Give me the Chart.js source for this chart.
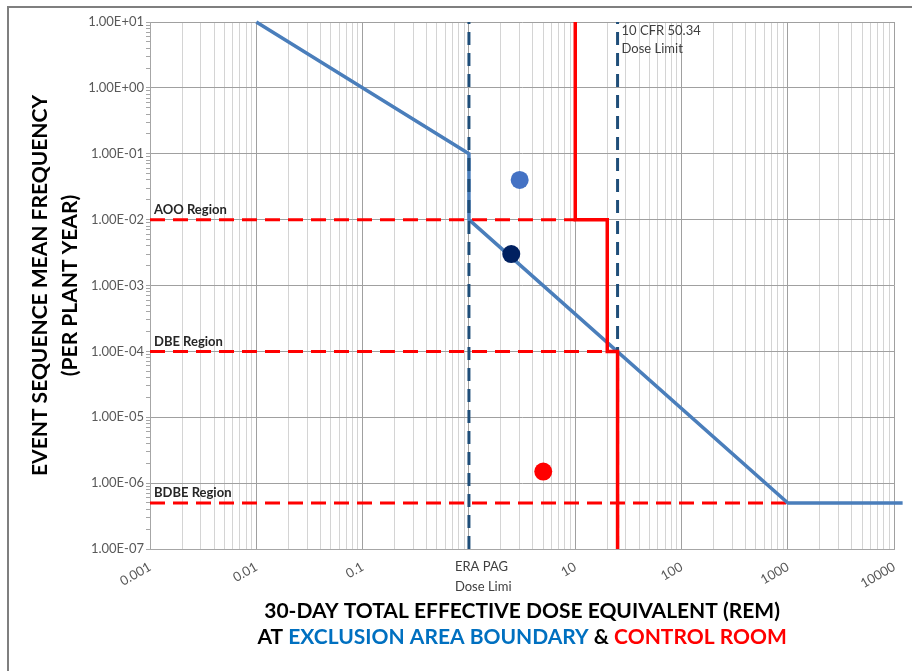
<!DOCTYPE html>
<html>
<head>
<meta charset="utf-8">
<script src="https://cdn.jsdelivr.net/npm/chart.js@4.4.1/dist/chart.umd.min.js"></script>
<style>
  html, body { margin: 0; padding: 0; background: #fff; }
  canvas { display: block; }
</style>
</head>
<body>
<canvas id="doseChart" width="912" height="671"></canvas>
<script>
// ---------------------------------------------------------------------------
// DATA
// ---------------------------------------------------------------------------

// exclusion area boundary limit curve (rem vs. frequency per plant year)
const eabDose = [0.01, 1, 1, 1000, 12000];
const eabFreq = [10, 0.1, 0.01, 5e-7, 5e-7];

// control room limit curve
const crDose = [10, 10, 20, 20, 25, 25];
const crFreq = [10, 1e-2, 1e-2, 1e-4, 1e-4, 1e-7];

// frequency region boundaries
const regionNames = ['AOO Region', 'DBE Region', 'BDBE Region'];
const regionFreq = [1e-2, 1e-4, 5e-7];
const regionEnd = [10, 20, 1000];

// vertical dose limits
const limitDose = [1, 25];
const eraLabel = ['ERA PAG', 'Dose Limi'];
const cfrLabel = ['10 CFR 50.34', 'Dose Limit'];

// event sequence results
const pointDose = [3, 2.5, 5];
const pointFreq = [0.04, 3e-3, 1.5e-6];
const pointColors = ['#4472C4', '#002060', '#FF0000'];

// axis ranges / labelled decades
const xMin = 0.001, xMax = 10000;
const yMin = 1e-7, yMax = 10;
const xLabels = ['0.001', '0.01', '0.1', '', '10', '100', '1000', '10000'];

const xTitle = '30-DAY TOTAL EFFECTIVE DOSE EQUIVALENT (REM)';
const xSubtitle = [['AT ', '#000000'], ['EXCLUSION AREA BOUNDARY', '#0070C0'], [' & ', '#000000'], ['CONTROL ROOM', '#FF0000']];
const yTitle = ['EVENT SEQUENCE MEAN FREQUENCY', '(PER PLANT YEAR)'];

// ---------------------------------------------------------------------------
// HELPERS
// ---------------------------------------------------------------------------

const FONT = 'Lato, "Open Sans", sans-serif';

function logTicks(min, max) {
    const out = [];
    const e0 = Math.round(Math.log10(min)), e1 = Math.round(Math.log10(max));
    for (let e = e0; e <= e1; e++) {
        for (let m = 1; m <= 9; m++) {
            const v = Number((m * Math.pow(10, e)).toPrecision(3));
            if (v > max * 1.0001) break;
            out.push({ value: v, major: m === 1 });
        }
    }
    return out;
}

function isDecade(v) {
    const l = Math.log10(v);
    return Math.abs(l - Math.round(l)) < 1e-6;
}

function sciLabel(v) {
    const e = Math.round(Math.log10(v));
    return '1.00E' + (e < 0 ? '-' : '+') + String(Math.abs(e)).padStart(2, '0');
}

function pts(xs, ys) {
    return xs.map((x, i) => ({ x: x, y: ys[i] }));
}

// ---------------------------------------------------------------------------
// DATASETS (index 0 drawn on top)
// ---------------------------------------------------------------------------

const datasets = [];

pointDose.forEach((d, i) => {
    datasets.push({
        data: [{ x: d, y: pointFreq[i] }],
        showLine: false,
        pointRadius: 9,
        pointBackgroundColor: pointColors[i],
        pointBorderWidth: 0
    });
});

// control room limit sits on top of the dashed dose limits
datasets.push({
    data: pts(crDose, crFreq),
    showLine: true,
    borderColor: '#FF0000',
    borderWidth: 3.5,
    pointRadius: 0
});

limitDose.forEach(d => {
    datasets.push({
        data: pts([d, d], [yMin, yMax]),
        showLine: true,
        borderColor: '#1F4E79',
        borderWidth: 3,
        borderDash: [13, 8],
        pointRadius: 0
    });
});

datasets.push({
    data: pts(eabDose, eabFreq),
    showLine: true,
    borderColor: '#4A7EBB',
    borderWidth: 3.5,
    pointRadius: 0,
    clip: false
});

regionFreq.forEach((f, i) => {
    datasets.push({
        data: pts([xMin, regionEnd[i]], [f, f]),
        showLine: true,
        borderColor: '#FF0000',
        borderWidth: 3,
        borderDash: [15, 8],
        pointRadius: 0
    });
});

// ---------------------------------------------------------------------------
// TEXT / FRAME PLUGIN
// ---------------------------------------------------------------------------

const annotationPlugin = {
    id: 'annotations',
    beforeDraw(chart) {
        const ctx = chart.ctx;
        ctx.save();
        ctx.strokeStyle = '#7f7f7f';
        ctx.lineWidth = 2;
        ctx.beginPath();
        ctx.moveTo(8, 671);
        ctx.lineTo(8, 7);
        ctx.lineTo(912, 7);
        ctx.stroke();
        ctx.restore();
    },
    afterDraw(chart) {
        const ctx = chart.ctx;
        const xs = chart.scales.x, ys = chart.scales.y;
        const area = chart.chartArea;
        ctx.save();
        ctx.textBaseline = 'middle';
        ctx.textAlign = 'left';

        // region labels
        ctx.fillStyle = '#262626';
        ctx.font = 'bold 13px ' + FONT;
        regionNames.forEach((n, i) => {
            ctx.fillText(n, xs.left + 4, ys.getPixelForValue(regionFreq[i]) - 10);
        });

        // dose limit labels
        ctx.fillStyle = '#404040';
        ctx.font = '13px ' + FONT;
        const eraX = xs.getPixelForValue(limitDose[0]) - 14;
        ctx.fillText(eraLabel[0], eraX, ys.bottom + 18);
        ctx.fillText(eraLabel[1], eraX, ys.bottom + 38);
        const cfrX = xs.getPixelForValue(limitDose[1]) + 4;
        ctx.fillText(cfrLabel[0], cfrX, ys.top + 9);
        ctx.fillText(cfrLabel[1], cfrX, ys.top + 27);

        // x axis title (two lines, second multicoloured)
        const cx = (area.left + area.right) / 2;
        ctx.font = 'bold 21px ' + FONT;
        ctx.fillStyle = '#000000';
        ctx.textAlign = 'center';
        ctx.fillText(xTitle, cx, 611);
        ctx.textAlign = 'left';
        const total = xSubtitle.reduce((s, p) => s + ctx.measureText(p[0]).width, 0);
        let x = cx - total / 2;
        xSubtitle.forEach(p => {
            ctx.fillStyle = p[1];
            ctx.fillText(p[0], x, 637);
            x += ctx.measureText(p[0]).width;
        });

        // y axis title
        ctx.translate(0, (area.top + area.bottom) / 2);
        ctx.rotate(-Math.PI / 2);
        ctx.textAlign = 'center';
        ctx.fillStyle = '#000000';
        ctx.fillText(yTitle[0], 0, 40);
        ctx.fillText(yTitle[1], 0, 70);
        ctx.restore();
    }
};

// ---------------------------------------------------------------------------
// CHART
// ---------------------------------------------------------------------------

new Chart(document.getElementById('doseChart').getContext('2d'), {
    type: 'scatter',
    data: { datasets: datasets },
    plugins: [annotationPlugin],
    options: {
        responsive: false,
        animation: false,
        layout: { padding: { left: 0, top: 22, right: 16, bottom: 0 } },
        plugins: { legend: { display: false }, tooltip: { enabled: false } },
        scales: {
            x: {
                type: 'logarithmic',
                min: xMin,
                max: xMax,
                afterBuildTicks: s => { s.ticks = logTicks(xMin, xMax); },
                afterFit: s => { s.height = 122; },
                border: { color: '#a6a6a6' },
                grid: {
                    drawTicks: false,
                    color: c => (c.tick && isDecade(c.tick.value)) ? '#a0a0a0' : '#d4d4d4'
                },
                ticks: {
                    autoSkip: false,
                    minRotation: 30,
                    maxRotation: 30,
                    padding: 10,
                    color: '#595959',
                    font: { family: FONT, size: 13 },
                    callback: v => isDecade(v) ? xLabels[Math.round(Math.log10(v)) + 3] : ''
                }
            },
            y: {
                type: 'logarithmic',
                min: yMin,
                max: yMax,
                afterBuildTicks: s => { s.ticks = logTicks(yMin, yMax); },
                afterFit: s => { s.width = 150; },
                border: { color: '#a6a6a6' },
                grid: {
                    tickLength: 4,
                    tickColor: '#a6a6a6',
                    color: c => (c.tick && isDecade(c.tick.value)) ? '#a0a0a0' : 'rgba(0,0,0,0)'
                },
                ticks: {
                    autoSkip: false,
                    padding: 2,
                    color: '#595959',
                    font: { family: FONT, size: 13 },
                    callback: v => isDecade(v) ? sciLabel(v) : ''
                }
            }
        }
    }
});
</script>
</body>
</html>
